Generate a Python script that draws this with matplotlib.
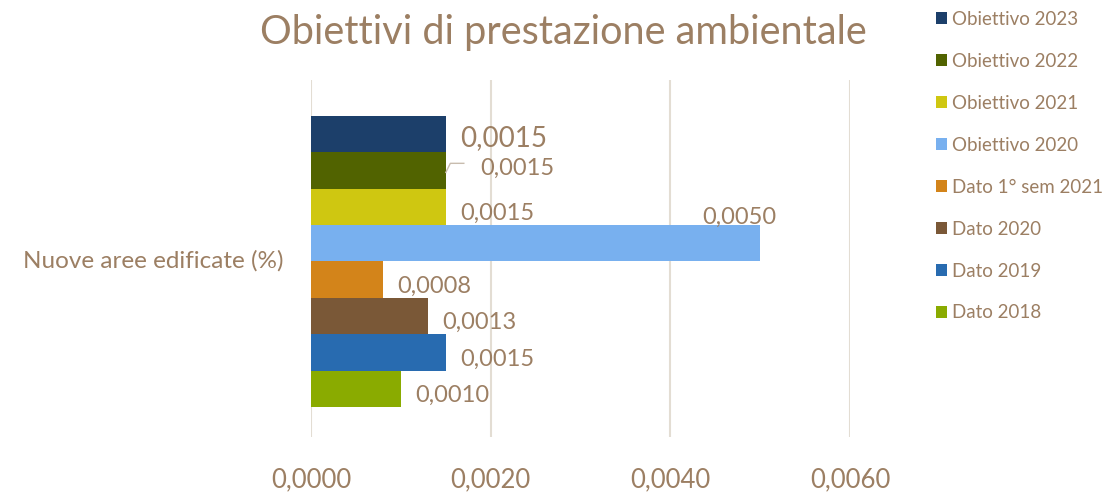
import numpy as np
import matplotlib
matplotlib.use("Agg")
import matplotlib.pyplot as plt

plt.rcParams['font.family'] = ['Lato', 'DejaVu Sans']

# Dati (ordine dal basso verso l'alto)
serie = ["Dato 2018", "Dato 2019", "Dato 2020", "Dato 1° sem 2021",
         "Obiettivo 2020", "Obiettivo 2021", "Obiettivo 2022", "Obiettivo 2023"]
valori = [0.0010, 0.0015, 0.0013, 0.0008, 0.0050, 0.0015, 0.0015, 0.0015]
colori = ["#8aab00", "#286bb0", "#7a5837", "#d3841a",
          "#78b0ef", "#cfc711", "#516300", "#1c3f6a"]
categoria = "Nuove aree edificate (%)"
tick_x = [0.0, 0.002, 0.004, 0.006]

testo = "#9c7f63"
griglia = "#e3ddd3"

fig = plt.figure(figsize=(11.07, 4.95), dpi=100)
ax = fig.add_axes([0.281, 0.117, 0.487, 0.721])

n = len(serie)
larghezza_gruppo = 0.815
h = larghezza_gruppo / n
centri = -larghezza_gruppo / 2 + (np.arange(n) + 0.5) * h - 0.008

for i in range(n):
    ax.barh(centri[i], valori[i], height=h, color=colori[i], label=serie[i], zorder=3)

def fmt(v):
    return f"{v:.4f}".replace(".", ",")

# Etichette dei valori
for i in range(n):
    v = valori[i]
    y = centri[i]
    if serie[i] == "Obiettivo 2020":
        ax.text(v - 0.00023, y + h * 0.42, fmt(v), ha="center", va="bottom",
                fontsize=17, color=testo, zorder=4)
    elif serie[i] == "Obiettivo 2023":
        ax.text(v + 0.00016, y - h * 0.1, fmt(v), ha="left", va="center",
                fontsize=20, color=testo, zorder=4)
    elif serie[i] == "Obiettivo 2022":
        ax.text(v + 0.00038, y + h * 0.05, fmt(v), ha="left", va="center",
                fontsize=17, color=testo, zorder=4)
        ax.plot([v, v + 0.00005, v + 0.0002], [y - h * 0.05, y + h * 0.2, y + h * 0.2],
                color="#c8bcae", lw=1, zorder=4)
    else:
        ax.text(v + 0.00016, y - h * 0.18, fmt(v), ha="left", va="center",
                fontsize=17, color=testo, zorder=4)

ax.set_xlim(0, 0.006)
ax.set_ylim(-0.5, 0.5)
ax.set_xticks(tick_x)
ax.set_xticklabels([fmt(t) for t in tick_x], fontsize=18.5, color=testo)
ax.tick_params(axis="x", length=0, pad=22)
ax.set_yticks([0])
ax.set_yticklabels([categoria], fontsize=17.5, color=testo)
ax.tick_params(axis="y", length=0, pad=20)
ax.grid(axis="x", color=griglia, lw=1.5, zorder=0)
for s in ax.spines.values():
    s.set_visible(False)

fig.text(0.509, 0.935, "Obiettivi di prestazione ambientale", ha="center", va="center",
         fontsize=28.5, color=testo)

handles, labels = ax.get_legend_handles_labels()
leg = fig.legend(handles[::-1], labels[::-1], loc="upper left",
                 bbox_to_anchor=(0.83, 1.012), frameon=False, fontsize=13.5,
                 labelcolor=testo, handlelength=0.6, handleheight=0.6,
                 handletextpad=0.25, labelspacing=1.33)

fig.savefig("out.png", dpi=100)
